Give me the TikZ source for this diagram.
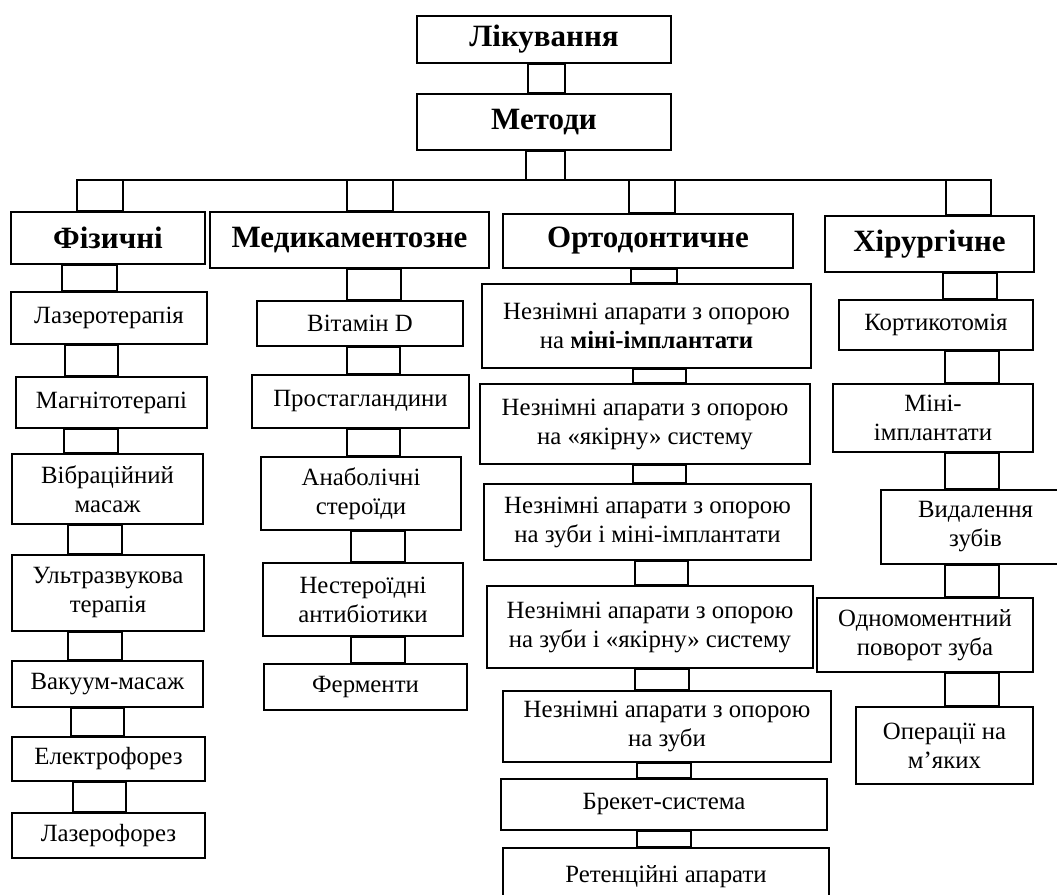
\documentclass[tikz,border=0pt]{standalone}
\usepackage{fontspec}
\setmainfont{Liberation Serif}
\usetikzlibrary{calc}

\tikzset{
  box/.style={draw, line width=1.8pt, fill=white, inner sep=0pt, align=center,
    font=\fontsize{24.8}{29}\selectfont},
  head/.style={box, font=\fontsize{31}{37}\selectfont\bfseries},
  link/.style={draw, line width=1.8pt}
}

\begin{document}
\begin{tikzpicture}[x=1pt, y=-1pt]
  \useasboundingbox (0,0) rectangle (1057,894);
  % headings: name/left/top/right/bottom/text
  \foreach \n/\xa/\ya/\xb/\yb/\t in {lik/417/16/671/63/{Лікування}, met/417/94/671/150/{Методи},
      fiz/11/212/205/264/{Фізичні}, med/210/212/489/268/{Медикаментозне},
      ort/503/214/793/268/{Ортодонтичне}, hir/825/216/1034/272/{Хірургічне}}
    \node[head, minimum width={(\xb-\xa)*1pt}, minimum height={(\yb-\ya)*1pt}] (\n) at ({(\xa+\xb)/2},{(\ya+\yb)/2}) {\t};
  % physical methods
  \foreach \n/\xa/\ya/\xb/\yb/\t in {lzr/11/292/207/344/{Лазеротерапія}, mag/16/377/207/428/{Магнітотерапі},
      vib/12/454/203/524/{Вібраційний\\масаж}, uzt/12/555/204/631/{Ультразвукова\\терапія},
      vak/12/661/203/707/{Вакуум-масаж}, el/12/737/205/781/{Електрофорез}, lf/12/813/205/858/{Лазерофорез}}
    \node[box, minimum width={(\xb-\xa)*1pt}, minimum height={(\yb-\ya)*1pt}] (\n) at ({(\xa+\xb)/2},{(\ya+\yb)/2}) {\t};
  % drugs
  \foreach \n/\xa/\ya/\xb/\yb/\t in {vit/257/301/463/346/{Вітамін D}, pros/252/375/469/428/{Простагландини},
      anab/261/457/461/530/{Анаболічні\\стероїди}, nest/263/563/463/636/{Нестероїдні\\антибіотики},
      ferm/264/664/467/710/{Ферменти}}
    \node[box, minimum width={(\xb-\xa)*1pt}, minimum height={(\yb-\ya)*1pt}] (\n) at ({(\xa+\xb)/2},{(\ya+\yb)/2}) {\t};
  % orthodontic appliances
  \foreach \n/\xa/\ya/\xb/\yb/\t in {o1/482/284/811/368/{Незнімні апарати з опорою\\на \textbf{міні-імплантати}},
      o2/480/384/810/464/{Незнімні апарати з опорою\\на «якірну» систему},
      o3/484/484/811/560/{Незнімні апарати з опорою\\на зуби і міні-імплантати},
      o4/487/586/813/668/{Незнімні апарати з опорою\\на зуби і «якірну» систему},
      o5/503/691/831/762/{Незнімні апарати з опорою\\на зуби},
      brk/501/779/827/830/{Брекет-система}, ret/503/848/829/905/{Ретенційні апарати}}
    \node[box, minimum width={(\xb-\xa)*1pt}, minimum height={(\yb-\ya)*1pt}] (\n) at ({(\xa+\xb)/2},{(\ya+\yb)/2}) {\t};
  % surgery
  \foreach \n/\xa/\ya/\xb/\yb/\t in {kort/839/300/1033/350/{Кортикотомія}, mini/833/384/1033/452/{Міні-\\імплантати},
      vyd/881/490/1070/564/{Видалення\\зубів}, odn/817/598/1033/672/{Одномоментний\\поворот зуба},
      oper/856/707/1033/784/{Операції на\\м’яких}}
    \node[box, minimum width={(\xb-\xa)*1pt}, minimum height={(\yb-\ya)*1pt}] (\n) at ({(\xa+\xb)/2},{(\ya+\yb)/2}) {\t};
  % bus under Методи
  \coordinate (busL) at (77,180);
  \coordinate (busR) at (991,180);
  \draw[link] (busL) -- (busR);
  \draw[link] let \p1=(met.south), \p2=(busL) in (526pt,\y1) rectangle (565pt,\y2);
  \foreach \b/\xa/\xb in {fiz/77/123, med/347/393, ort/629/675, hir/946/991}
    \draw[link] let \p1=(busL), \p2=(\b.north) in (\xa pt,\y1) rectangle (\xb pt,\y2);
  % links: upper/lower/left/right
  \foreach \a/\b/\xa/\xb in {lik/met/528/565,
      fiz/lzr/62/117, lzr/mag/65/118, mag/vib/64/118, vib/uzt/68/122, uzt/vak/68/122, vak/el/71/124, el/lf/73/126,
      med/vit/347/401, vit/pros/347/400, pros/anab/347/400, anab/nest/351/405, nest/ferm/351/405,
      ort/o1/631/677, o1/o2/633/686, o2/o3/633/686, o3/o4/635/688, o4/o5/635/689, o5/brk/637/691, brk/ret/637/691,
      hir/kort/943/997, kort/mini/945/999, mini/vyd/945/999, vyd/odn/945/999, odn/oper/945/999}
    \draw[link] let \p1=(\a.south), \p2=(\b.north) in (\xa pt,\y1) rectangle (\xb pt,\y2);
\end{tikzpicture}
\end{document}
